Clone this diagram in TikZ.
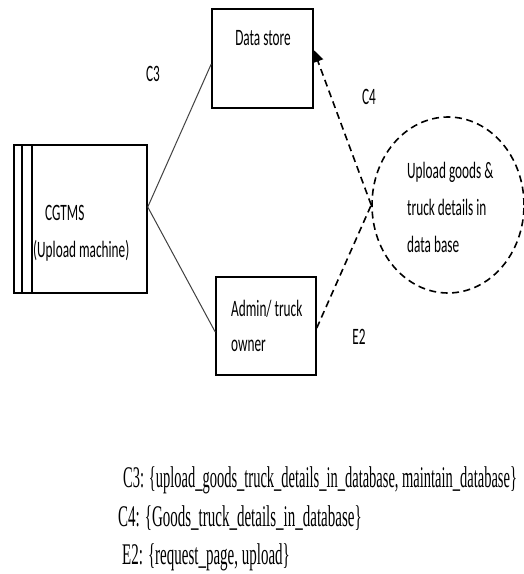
\documentclass[tikz,border=0pt]{standalone}
\usepackage{fontspec}
\usetikzlibrary{shapes.geometric,arrows.meta}
\newfontfamily\diafont[FakeStretch=0.565]{Carlito}
\newfontfamily\legfont[FakeStretch=0.5]{Liberation Serif}
\newfontfamily\legfontnarrow[FakeStretch=0.483]{Liberation Serif}
\begin{document}
\begin{tikzpicture}[x=1pt,y=-1pt,
  boxnode/.style={draw=black,line width=1.5pt,inner sep=0pt},
  txt/.style={font=\diafont\fontsize{23.5}{37}\selectfont,inner sep=0pt},
  leg/.style={font=\legfont\fontsize{30}{36}\selectfont,inner sep=0pt,anchor=west},
  link/.style={draw=black!75,line width=1pt},
  dashlink/.style={draw=black,line width=1.6pt,dash pattern=on 7pt off 4.5pt}]
\useasboundingbox (0,0) rectangle (524,574);

% process box with double bar on its left side
\node[boxnode,minimum width=133pt,minimum height=148pt] (cg) at (80.5,219) {};
\draw[line width=1.1pt] (22,145) -- (22,293);
\draw[line width=1.1pt] (32,145) -- (32,293);
\node[txt,anchor=west] (cgname) at (45,213) {CGTMS};
\node[txt,anchor=west] (cgsub) at (33,251) {(Upload machine)};

% data store box
\node[boxnode,minimum width=101pt,minimum height=99pt] (ds) at (262.5,58.5) {};
\node[txt] (dsname) at (263,38) {Data store};

% admin box
\node[boxnode,minimum width=100pt,minimum height=98pt] (ad) at (266,326) {};
\node[txt,anchor=west] (adname1) at (231,309) {Admin/ truck};
\node[txt,anchor=west] (adname2) at (231,346) {owner};

% use case ellipse
\node[ellipse,dashlink,minimum width=152pt,minimum height=176pt,inner sep=0pt] (uc) at (448,205) {};
\node[txt,align=left,anchor=west] (ucname) at (407,207) {Upload goods \&\\truck details in\\data base};

% connectors
\draw[link] ([yshift=12pt]cg.east) -- ([yshift=-5.5pt]ds.west);
\draw[link] ([yshift=12pt]cg.east) -- ([yshift=-6pt]ad.west);
\draw[dashlink,-{Triangle[length=12pt,width=11pt]}] (uc.west) -- ([yshift=8.5pt]ds.east);
\draw[dashlink] ([yshift=-2pt]ad.east) -- (uc.west);

% connector labels
\node[txt] (lc3) at (153,74) {C3};
\node[txt] (lc4) at (369,97) {C4};
\node[txt] (le2) at (359,337) {E2};

% legend
\node[leg,font=\legfontnarrow\fontsize{30}{36}\selectfont] (leg1) at (123,480) {C3: \{upload\_goods\_truck\_details\_in\_database, maintain\_database\}};
\node[leg] (leg2) at (118,518) {C4: \{Goods\_truck\_details\_in\_database\}};
\node[leg] (leg3) at (122,557) {E2: \{request\_page, upload\}};
\end{tikzpicture}
\end{document}
